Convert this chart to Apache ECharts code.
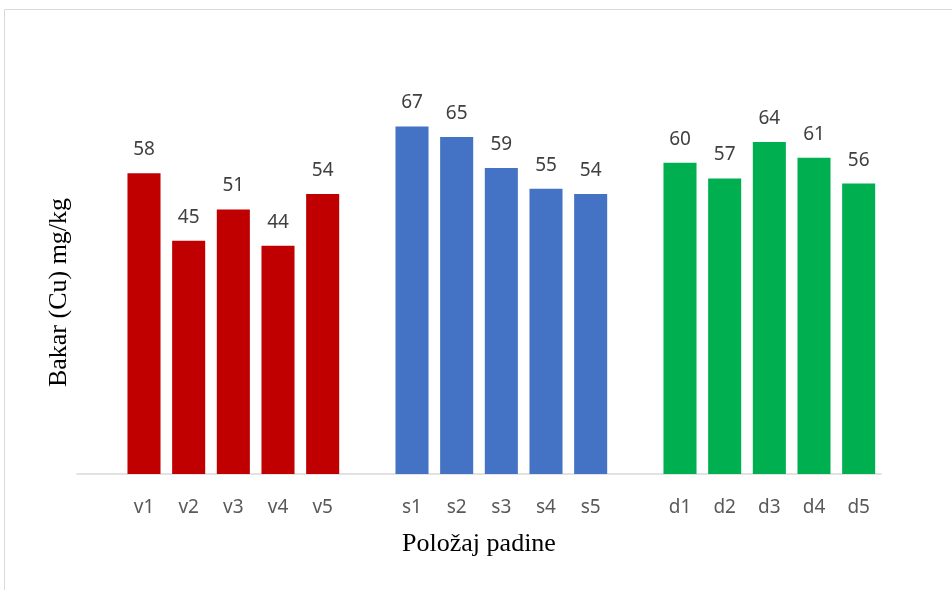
<!DOCTYPE html>
<html>
<head>
<meta charset="utf-8">
<script src="https://cdn.jsdelivr.net/npm/echarts@6/dist/echarts.min.js"></script>
<style>html,body{margin:0;padding:0;background:#fff}#c{width:952px;height:590px}</style>
</head>
<body>
<div id="c"></div>
<script>
const groupNames = [['v1','v2','v3','v4','v5'], ['s1','s2','s3','s4','s5'], ['d1','d2','d3','d4','d5']];
const vValues = [58, 45, 51, 44, 54];
const sValues = [67, 65, 59, 55, 54];
const dValues = [60, 57, 64, 61, 56];
const groupColors = ['#C00000', '#4472C4', '#00B050'];
const xTitle = 'Položaj padine';
const yTitle = 'Bakar (Cu) mg/kg';

const groupValues = [vValues, sValues, dValues];
const categories = [];
const data = [];
groupNames.forEach((names, g) => {
  categories.push('');
  data.push(null);
  names.forEach((n, i) => {
    categories.push(n);
    data.push({ value: groupValues[g][i], itemStyle: { color: groupColors[g] } });
  });
});

const chart = echarts.init(document.getElementById('c'));
chart.setOption({
  animation: false,
  backgroundColor: '#fff',
  graphic: [{
    type: 'rect', shape: { x: 4.5, y: 9.5, width: 1200, height: 1200 },
    style: { fill: 'none', stroke: '#d9d9d9', lineWidth: 1 }, silent: true
  }],
  grid: { left: 77, right: 71, top: 111, bottom: 116 },
  xAxis: {
    type: 'category', data: categories,
    axisLine: { lineStyle: { color: '#d9d9d9', width: 1.5 } },
    axisTick: { show: false },
    axisLabel: { color: '#595959', fontSize: 19, fontFamily: 'Noto Sans', margin: 24, interval: 0 },
    name: xTitle, nameLocation: 'middle', nameGap: 57,
    nameTextStyle: { fontFamily: 'Liberation Serif', fontSize: 26, color: '#000' }
  },
  yAxis: {
    type: 'value', min: 0, max: 70,
    axisLine: { show: false }, axisTick: { show: false },
    axisLabel: { show: false }, splitLine: { show: false },
    name: yTitle, nameLocation: 'middle', nameGap: 5, nameRotate: 90,
    nameTextStyle: { fontFamily: 'Liberation Serif', fontSize: 26, color: '#000' }
  },
  series: [{
    type: 'bar', data: data, barCategoryGap: '26%',
    label: { show: true, position: 'top', distance: 14, color: '#404040', fontSize: 19, fontFamily: 'Noto Sans' }
  }]
});
</script>
</body>
</html>
